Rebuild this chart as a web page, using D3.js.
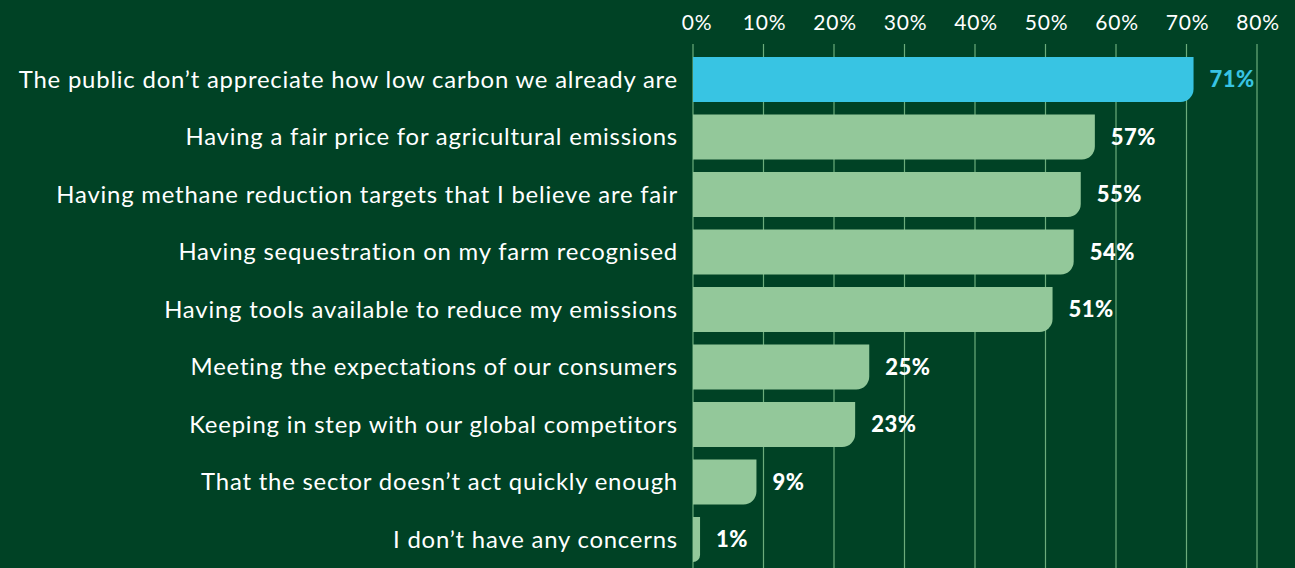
<!DOCTYPE html>
<html><head><meta charset="utf-8">
<script src="https://cdn.jsdelivr.net/npm/d3@7"></script>
<style>
html,body{margin:0;padding:0;background:#004225;}
svg{display:block;}
text{font-family:"Lato","Open Sans",sans-serif;}
</style></head><body>
<svg id="c" width="1295" height="568"></svg>
<script>
const categories = [
  "The public don\u2019t appreciate how low carbon we already are",
  "Having a fair price for agricultural emissions",
  "Having methane reduction targets that I believe are fair",
  "Having sequestration on my farm recognised",
  "Having tools available to reduce my emissions",
  "Meeting the expectations of our consumers",
  "Keeping in step with our global competitors",
  "That the sector doesn\u2019t act quickly enough",
  "I don\u2019t have any concerns"
];
const values = [71, 57, 55, 54, 51, 25, 23, 9, 1];
const tickValues = [0, 10, 20, 30, 40, 50, 60, 70, 80];
const tickLabels = ["0%", "10%", "20%", "30%", "40%", "50%", "60%", "70%", "80%"];

const svg = d3.select("#c");
const bg = "#004225", green = "#93c89a", cyan = "#38c4e3";
svg.append("rect").attr("width",1295).attr("height",568).attr("fill",bg);

const x = d3.scaleLinear().domain([0,80]).range([693,1257]);
const y = d3.scaleBand().domain(categories).range([57,562]).paddingInner(0.217).paddingOuter(0);

// gridlines
svg.append("g").selectAll("line").data(tickValues).join("line")
  .attr("x1",d=>x(d)).attr("x2",d=>x(d)).attr("y1",44).attr("y2",568)
  .attr("stroke","#7fbf8c").attr("stroke-width",1.2).attr("opacity",0.85);

// axis labels
svg.append("g").selectAll("text").data(tickValues).join("text")
  .attr("x",(d,i)=>x(d)+(i===0?4:1)).attr("y",30)
  .attr("text-anchor","middle").attr("fill","#ffffff")
  .attr("font-size",21).attr("letter-spacing","0.8px").text((d,i)=>tickLabels[i]);

// bars with rounded bottom-right corner
const r = 13;
function barPath(v, cat){
  const x0 = x(0), x1 = x(v), y0 = y(cat), h = y.bandwidth(), y1 = y0 + h;
  const rr = Math.min(r, x1 - x0, h);
  return `M${x0},${y0}H${x1}V${y1-rr}A${rr},${rr} 0 0 1 ${x1-rr},${y1}H${x0}Z`;
}
svg.append("g").selectAll("path").data(values).join("path")
  .attr("d",(d,i)=>barPath(d,categories[i]))
  .attr("fill",(d,i)=>i===0?cyan:green);

// category labels
const catG = svg.append("g");
catG.selectAll("text").data(categories).join("text")
  .attr("x",678).attr("y",d=>y(d)+y.bandwidth()/2)
  .attr("dy","0.35em").attr("text-anchor","end").attr("fill","#ffffff")
  .attr("font-size",21).attr("letter-spacing","0.8px").text(d=>d);

// fit width of the longest label to the reference width (~666px)
const first = catG.select("text").node();
const w = first.getComputedTextLength();
const fs = 21 * 666 / w;
catG.selectAll("text").attr("font-size", fs);

// value labels
svg.append("g").selectAll("text").data(values).join("text")
  .attr("x",d=>x(d)+16).attr("y",(d,i)=>y(categories[i])+y.bandwidth()/2)
  .attr("dy","0.35em").attr("fill",(d,i)=>i===0?cyan:"#ffffff")
  .attr("font-size",22).attr("font-weight",900).attr("letter-spacing","0.5px")
  .text(d=>d+"%");
</script>
</body></html>
